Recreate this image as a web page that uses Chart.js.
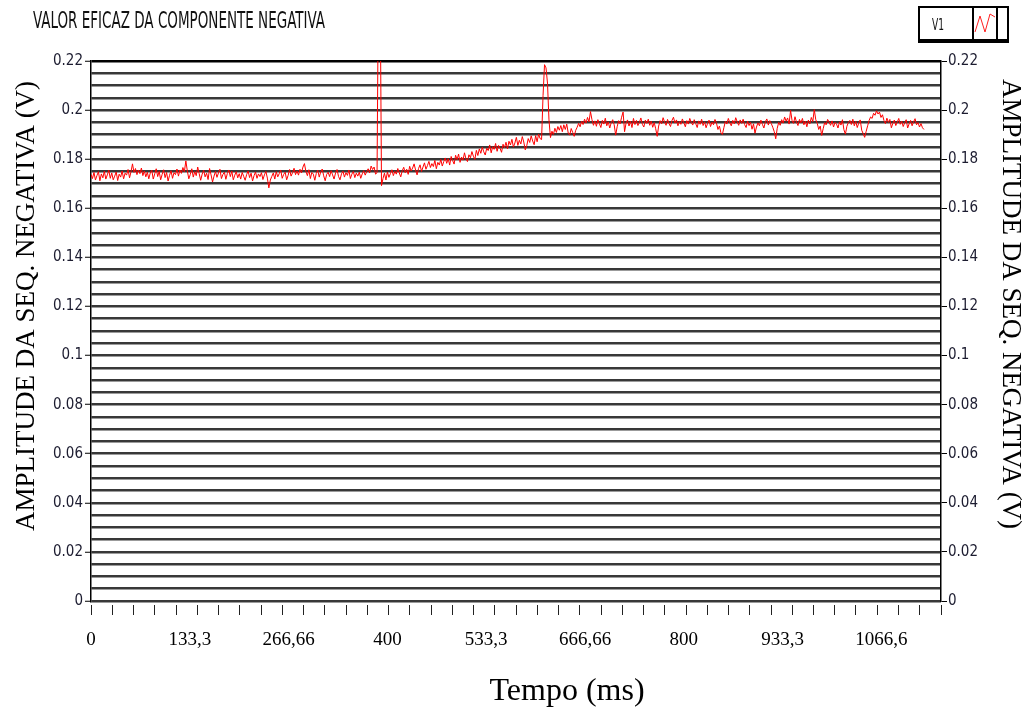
<!DOCTYPE html>
<html>
<head>
<meta charset="utf-8">
<script src="https://cdn.jsdelivr.net/npm/chart.js@4.4.1/dist/chart.umd.min.js"></script>
<style>
  html, body { margin: 0; padding: 0; background: #fff; }
  #wrap { width: 1028px; height: 710px; position: relative; }
</style>
</head>
<body>
<div id="wrap"><canvas id="grafico" width="1028" height="710"></canvas></div>
<script>
// amostras a cada 2 ms (uma linha = 40 ms)
const passoMs = 2;
const amplitudeV1 = [
  0.1738,0.1721,0.1746,0.1715,0.1733,0.1749,0.1712,0.1740,0.1724,0.1751,0.1719,0.1736,0.1755,0.1722,0.1744,0.1716,0.1731,0.1748,0.1713,0.1739,
  0.1727,0.1752,0.1720,0.1743,0.1735,0.1758,0.1724,0.1749,0.1781,0.1746,0.1762,0.1737,0.1756,0.1741,0.1764,0.1733,0.1752,0.1728,0.1747,0.1720,
  0.1744,0.1755,0.1719,0.1740,0.1761,0.1729,0.1750,0.1716,0.1738,0.1757,0.1725,0.1746,0.1711,0.1734,0.1753,0.1722,0.1745,0.1737,0.1760,0.1731,
  0.1756,0.1742,0.1766,0.1749,0.1793,0.1752,0.1720,0.1738,0.1761,0.1727,0.1749,0.1733,0.1768,0.1741,0.1714,0.1739,0.1755,0.1728,0.1743,0.1717,
  0.1762,0.1736,0.1707,0.1731,0.1750,0.1726,0.1744,0.1759,0.1721,0.1738,0.1747,0.1718,0.1742,0.1756,0.1729,0.1751,0.1716,0.1735,0.1749,0.1724,
  0.1741,0.1719,0.1746,0.1730,0.1714,0.1737,0.1752,0.1725,0.1743,0.1711,0.1733,0.1748,0.1722,0.1740,0.1729,0.1745,0.1717,0.1736,0.1750,0.1723,
  0.1683,0.1715,0.1730,0.1744,0.1719,0.1749,0.1728,0.1741,0.1756,0.1722,0.1738,0.1747,0.1716,0.1734,0.1758,0.1731,0.1745,0.1763,0.1737,0.1752,
  0.1735,0.1759,0.1744,0.1768,0.1782,0.1750,0.1733,0.1757,0.1721,0.1746,0.1739,0.1714,0.1742,0.1755,0.1727,0.1748,0.1760,0.1732,0.1712,0.1738,
  0.1747,0.1729,0.1753,0.1736,0.1719,0.1744,0.1758,0.1730,0.1716,0.1740,0.1751,0.1727,0.1745,0.1734,0.1756,0.1721,0.1739,0.1750,0.1725,0.1743,
  0.1731,0.1747,0.1722,0.1740,0.1753,0.1735,0.1749,0.1761,0.1744,0.1772,0.1758,0.1768,0.1739,0.1745,0.2600,0.2600,0.1692,0.1721,0.1743,0.1715,
  0.1748,0.1726,0.1741,0.1757,0.1733,0.1750,0.1739,0.1762,0.1744,0.1728,0.1753,0.1767,0.1745,0.1759,0.1738,0.1771,0.1752,0.1764,0.1781,0.1756,
  0.1736,0.1762,0.1777,0.1750,0.1768,0.1785,0.1759,0.1774,0.1791,0.1766,0.1782,0.1770,0.1795,0.1761,0.1787,0.1776,0.1799,0.1772,0.1790,0.1805,
  0.1783,0.1802,0.1776,0.1811,0.1794,0.1780,0.1816,0.1798,0.1821,0.1787,0.1809,0.1796,0.1826,0.1801,0.1790,0.1818,0.1806,0.1831,0.1812,0.1799,
  0.1836,0.1815,0.1842,0.1824,0.1849,0.1830,0.1817,0.1845,0.1835,0.1858,0.1826,0.1851,0.1840,0.1864,0.1832,0.1856,0.1844,0.1828,0.1861,0.1847,
  0.1869,0.1842,0.1873,0.1858,0.1881,0.1849,0.1866,0.1889,0.1856,0.1877,0.1862,0.1892,0.1870,0.1838,0.1855,0.1884,0.1868,0.1895,0.1874,0.1859,
  0.1896,0.1871,0.1902,0.1884,0.1880,0.2060,0.2185,0.2172,0.2110,0.1960,0.1888,0.1914,0.1901,0.1926,0.1909,0.1933,0.1918,0.1937,0.1912,0.1940,
  0.1921,0.1943,0.1906,0.1898,0.1925,0.1909,0.1893,0.1917,0.1930,0.1946,0.1932,0.1955,0.1941,0.1963,0.1947,0.1970,0.1952,0.1994,0.1961,0.1938,
  0.1956,0.1934,0.1961,0.1945,0.1929,0.1958,0.1943,0.1967,0.1936,0.1952,0.1927,0.1949,0.1961,0.1940,0.1898,0.1932,0.1957,0.1944,0.1971,0.1992,
  0.1912,0.1947,0.1960,0.1935,0.1954,0.1929,0.1966,0.1941,0.1958,0.1937,0.1950,0.1968,0.1942,0.1931,0.1959,0.1946,0.1963,0.1938,0.1955,0.1930,
  0.1949,0.1924,0.1893,0.1935,0.1957,0.1944,0.1969,0.1951,0.1938,0.1962,0.1945,0.1933,0.1958,0.1971,0.1947,0.1960,0.1936,0.1953,0.1942,0.1964,
  0.1948,0.1932,0.1957,0.1943,0.1966,0.1950,0.1939,0.1961,0.1945,0.1929,0.1956,0.1942,0.1963,0.1937,0.1952,0.1928,0.1946,0.1959,0.1933,0.1951,
  0.1940,0.1962,0.1947,0.1921,0.1935,0.1908,0.1901,0.1928,0.1954,0.1943,0.1966,0.1949,0.1936,0.1958,0.1944,0.1969,0.1952,0.1938,0.1960,0.1946,
  0.1963,0.1941,0.1929,0.1955,0.1937,0.1950,0.1922,0.1944,0.1906,0.1931,0.1948,0.1936,0.1959,0.1942,0.1927,0.1953,0.1964,0.1939,0.1957,0.1945,
  0.1930,0.1912,0.1883,0.1926,0.1950,0.1938,0.1961,0.1947,0.1972,0.1955,0.1968,0.1943,0.1999,0.1958,0.1946,0.1973,0.1951,0.1937,0.1962,0.1948,
  0.1966,0.1940,0.1955,0.1932,0.1959,0.1944,0.1970,0.1953,0.2002,0.1961,0.1946,0.1921,0.1935,0.1897,0.1924,0.1949,0.1940,0.1962,0.1951,0.1938,
  0.1956,0.1931,0.1950,0.1943,0.1927,0.1952,0.1939,0.1961,0.1920,0.1902,0.1934,0.1949,0.1958,0.1941,0.1963,0.1936,0.1954,0.1929,0.1947,0.1960,
  0.1918,0.1904,0.1889,0.1913,0.1936,0.1958,0.1972,0.1966,0.1987,0.1979,0.1997,0.1984,0.1992,0.1970,0.1981,0.1958,0.1945,0.1967,0.1950,0.1962,
  0.1928,0.1946,0.1959,0.1937,0.1951,0.1966,0.1942,0.1955,0.1933,0.1948,0.1961,0.1927,0.1944,0.1958,0.1936,0.1952,0.1965,0.1940,0.1949,0.1931,
  0.1945,0.1928,0.1921
];
const tempoMs = amplitudeV1.map((_, i) => i * passoMs);

const xTickValores = [0, 133.3, 266.66, 400, 533.3, 666.66, 800, 933.3, 1066.6];
const xTickLabels = ['0', '133,3', '266,66', '400', '533,3', '666,66', '800', '933,3', '1066,6'];
const yTickLabels = ['0', '0.02', '0.04', '0.06', '0.08', '0.1', '0.12', '0.14', '0.16', '0.18', '0.2', '0.22'];
const xMax = 1147;
const nMarcasX = 40;

const fonteLV = "'Liberation Sans Narrow', 'DejaVu Sans Condensed', sans-serif";
const fonteTimes = "'Liberation Serif', 'Times New Roman', serif";

function ehMaior(v) {
  const k = v / 0.02;
  return Math.abs(k - Math.round(k)) < 1e-6;
}
function rotuloY(v) {
  return ehMaior(v) ? yTickLabels[Math.round(v / 0.02)] : '';
}

// texto comprimido na largura pedida
function textoLargura(ctx, txt, x, y, largura) {
  const w = ctx.measureText(txt).width;
  ctx.save();
  ctx.translate(x, y);
  if (largura) ctx.scale(largura / w, 1);
  ctx.fillText(txt, 0, 0);
  ctx.restore();
}

const moldura = {
  id: 'moldura',
  afterDraw(chart) {
    const ctx = chart.ctx;
    ctx.save();
    // titulo
    ctx.fillStyle = '#111';
    ctx.textBaseline = 'middle';
    ctx.textAlign = 'left';
    ctx.font = '23px ' + fonteLV;
    textoLargura(ctx, 'VALOR EFICAZ DA COMPONENTE NEGATIVA', 33, 22, 292);

    // legenda
    ctx.fillStyle = '#fff';
    ctx.fillRect(919, 7, 89, 35);
    ctx.strokeStyle = '#000';
    ctx.lineWidth = 2;
    ctx.strokeRect(919, 7, 89, 35);
    ctx.fillStyle = '#000';
    ctx.fillRect(919, 39, 89, 4);
    ctx.fillRect(972, 7, 2, 35);
    ctx.fillRect(996, 7, 2, 35);
    ctx.fillStyle = '#111';
    ctx.font = '16px ' + fonteLV;
    textoLargura(ctx, 'V1', 932, 26, 12);
    ctx.strokeStyle = '#ff2020';
    ctx.lineWidth = 1;
    ctx.beginPath();
    ctx.moveTo(975, 32); ctx.lineTo(980, 16); ctx.lineTo(985, 32); ctx.lineTo(990, 14); ctx.lineTo(995, 17);
    ctx.stroke();

    // titulos dos eixos
    ctx.fillStyle = '#000';
    ctx.textAlign = 'center';
    ctx.font = '27px ' + fonteTimes;
    ctx.save();
    ctx.translate(27, 306);
    ctx.rotate(-Math.PI / 2);
    ctx.fillText('AMPLITUDE DA SEQ. NEGATIVA (V)', 0, 0);
    ctx.restore();
    ctx.save();
    ctx.translate(1010, 304);
    ctx.rotate(Math.PI / 2);
    ctx.fillText('AMPLITUDE DA SEQ. NEGATIVA (V)', 0, 0);
    ctx.restore();
    ctx.font = '32px ' + fonteTimes;
    ctx.fillText('Tempo (ms)', 567, 692);
    ctx.restore();
  }
};

const ctx = document.getElementById('grafico').getContext('2d');
new Chart(ctx, {
  type: 'line',
  data: {
    datasets: [{
      label: 'V1',
      data: tempoMs.map((t, i) => ({ x: t, y: amplitudeV1[i] })),
      borderColor: '#ff0000',
      borderWidth: 1,
      pointRadius: 0,
      tension: 0,
      yAxisID: 'y'
    }]
  },
  options: {
    responsive: false,
    animation: false,
    layout: { padding: { top: 61, left: 0, right: 0, bottom: 0 } },
    plugins: { legend: { display: false }, tooltip: { enabled: false } },
    scales: {
      x: {
        type: 'linear',
        min: 0,
        max: xMax,
        afterBuildTicks: (s) => {
          const t = [];
          for (let k = 0; k <= nMarcasX; k++) t.push({ value: k * xMax / nMarcasX });
          xTickValores.forEach(v => t.push({ value: v, rotulo: true }));
          t.sort((a, b) => a.value - b.value);
          s.ticks = t;
        },
        afterFit: (s) => { s.height = 109; },
        ticks: {
          autoSkip: false,
          maxRotation: 0,
          padding: 14,
          color: '#000',
          font: { family: fonteTimes, size: 19 },
          callback: (v, i, ticks) => {
            if (!ticks[i].rotulo) return '';
            const k = xTickValores.findIndex(x => Math.abs(x - v) < 1e-6);
            return k >= 0 ? xTickLabels[k] : '';
          }
        },
        grid: {
          drawOnChartArea: false,
          tickLength: 14,
          tickWidth: 1,
          tickBorderDash: [0, 4, 10, 0],
          tickColor: (c) => (c.tick && c.tick.rotulo) ? 'rgba(0,0,0,0)' : '#222'
        },
        border: { display: false }
      },
      y: {
        position: 'left',
        min: 0,
        max: 0.22,
        afterFit: (s) => { s.width = 91; },
        ticks: {
          stepSize: 0.005,
          autoSkip: false,
          padding: 2,
          color: '#1c1c30',
          font: { family: fonteLV, size: 15 },
          callback: rotuloY
        },
        grid: {
          color: (c) => (c.tick && Math.abs(c.tick.value - 0.22) < 1e-6) ? '#000' : '#383838',
          lineWidth: 2.5,
          tickLength: 6,
          tickWidth: 1,
          tickColor: (c) => (c.tick && ehMaior(c.tick.value)) ? '#000' : 'rgba(0,0,0,0)'
        },
        border: { color: '#000', width: 1.5 }
      },
      y2: {
        position: 'right',
        min: 0,
        max: 0.22,
        afterFit: (s) => { s.width = 87; },
        ticks: {
          stepSize: 0.005,
          autoSkip: false,
          padding: 1,
          color: '#1c1c30',
          font: { family: fonteLV, size: 15 },
          callback: rotuloY
        },
        grid: {
          drawOnChartArea: false,
          tickLength: 6,
          tickWidth: 1,
          tickColor: (c) => (c.tick && ehMaior(c.tick.value)) ? '#000' : 'rgba(0,0,0,0)'
        },
        border: { color: '#000', width: 1.5 }
      }
    }
  },
  plugins: [moldura]
});
</script>
</body>
</html>
